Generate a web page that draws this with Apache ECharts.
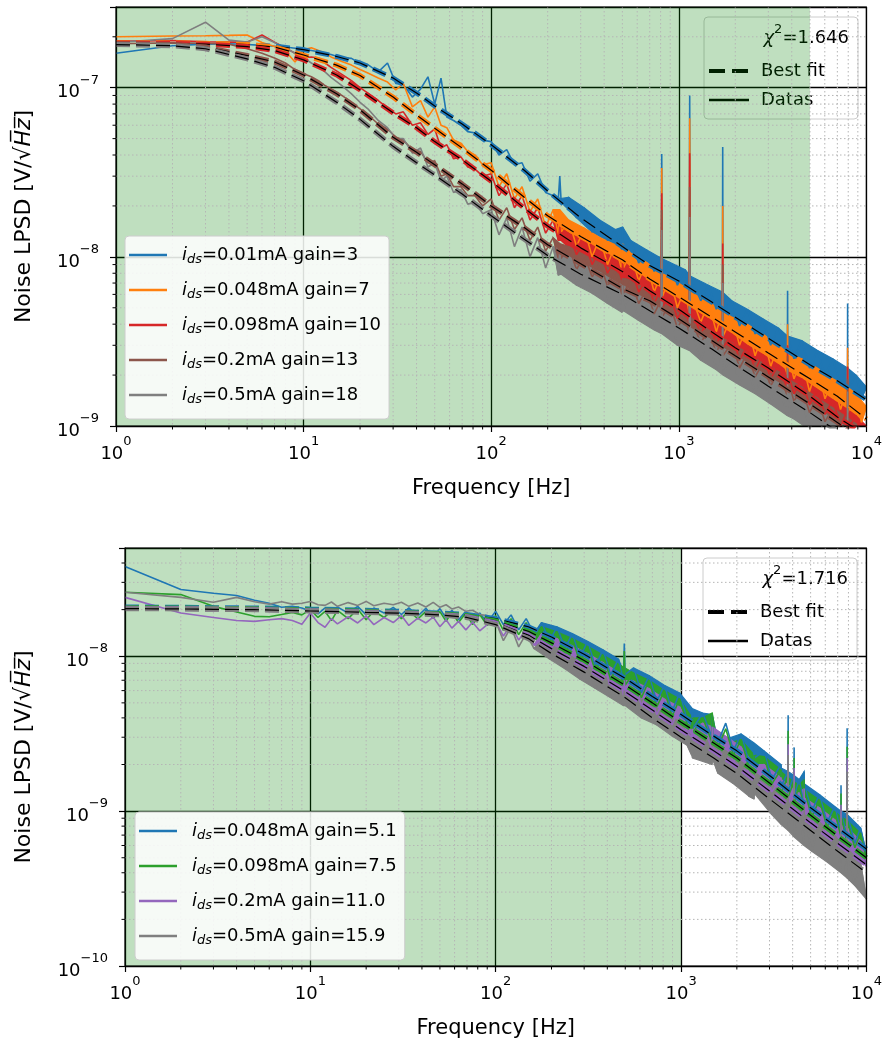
<!DOCTYPE html>
<html><head><meta charset="utf-8">
<script src="https://cdn.jsdelivr.net/npm/echarts@6/dist/echarts.min.js"></script>
<style>html,body{margin:0;padding:0;background:#fff}#c{width:885px;height:1046px}</style>
</head><body><div id="c"></div>
<script>
const FONT = 'DejaVu Sans';
// Values are in nV/sqrt(Hz) (1 nV = 1e-9 V); axis labels show powers of ten in V.

// ---------------- Top panel ----------------
const topNames = ['ids=0.01mA gain=3','ids=0.048mA gain=7','ids=0.098mA gain=10','ids=0.2mA gain=13','ids=0.5mA gain=18'];
const topColors = ['#1f77b4','#ff7f0e','#d62728','#8c564b','#7f7f7f'];
const topChi = '1.646';
const topGreenSpan = [1, 5000];
const topFreq = [1,2,3,4,5,6,7,8,9,10,11,12,13,14,
 16,18,20,22,25,28,31,34,38,42,46,50,54,58,63,69,75,82,90,
 100,110,121,133,146,161,177,195,214,
 228,232,236,259,285,313,345,379,417,459,
 497,502,507,555,611,672,739,
 806,811,816,894,983,1082,
 1136,1143,1150,1309,1440,1584,
 1708,1714,1720,1917,2108,2319,2551,2806,3087,3396,
 3794,3800,3806,4110,4521,4973,5470,6017,6619,7281,
 7934,7940,7946,8810,9400,10000];
const topBlue = [160,177,181,182,180,178,176,174,171,168,166,163,160,157,
 150,149,139,137,124,140,106,104,88,98,116,80,114,67,64,60,55,54,49,
 48,40,43,35,36,28,31,24,23,
 22,30,21,22.5,17,19.5,14,16.5,12.5,14.5,
 11,15,11.5,12.5,9.2,11,8.2,
 9.8,40.6,8,9.3,6.8,8.4,
 6.3,90,7.7,5.5,6.8,4.9,
 6.2,44.6,4.7,5.5,3.9,4.9,3.5,4.3,3.0,3.8,
 2.7,6.3,3.4,2.5,3.2,2.2,2.8,2.0,2.5,1.75,
 2.2,5.3,1.65,2.0,1.45,1.7];
const topOrange = [200,202,203,204,205,185,175,165,142,168,172,166,160,152,
 143,136,128,122,114,108,97,106,77,84,67,77,60,58,49,47,42,40,35,
 36,26,31,22,26,18.5,22,15,19,
 13.5,19,14,16.5,11.5,14.8,10,13,9,11.8,
 8.3,12,8.6,10.5,7.2,9.3,6.2,
 8,33.5,5.8,7.6,5,6.6,
 4.6,66,6.2,4.1,5.4,3.6,
 4.8,20,3.4,4.4,3.0,4.0,2.6,3.5,2.25,3.0,
 2.0,4.0,2.7,1.9,2.5,1.6,2.2,1.45,1.9,1.25,
 1.7,2.9,1.2,1.55,1.05,1.3];
const topRed = [188,190,187,186,186,205,186,172,160,151,152,150,140,132,
 120,110,100,93,84,76,70,72,60,62,53,57,44,46,38,39,34,33,30,
 31,23,27,19.5,23,16.5,19.5,13.8,16.5,
 12.5,15,12.5,13.8,10.3,12.5,9,11,8,9.8,
 7.3,9.5,7.5,8.6,6.2,7.4,5.3,
 6.5,23.8,5.0,6.1,4.3,5.3,
 3.9,41,5.0,3.5,4.3,3.0,
 3.8,12,2.9,3.5,2.45,3.0,2.15,2.65,1.9,2.3,
 1.65,3.0,2.1,1.55,1.9,1.33,1.65,1.17,1.43,1.0,
 1.25,2.25,0.95,1.15,0.83,1.0];
const topBrown = [182,184,183,181,170,160,150,140,128,121,116,110,103,98,
 90,82,75,69,61,57,51,49,43,42,36,37,30,31,26,26,23,23,20,
 22,16.5,19.5,14.5,17,12.5,15,10.8,13,
 9.7,12,9.8,11.5,8.4,10.3,7.6,9.2,6.7,8.2,
 6.0,7.5,6.1,7.3,5.3,6.4,4.6,
 5.6,18.9,4.4,5.3,3.8,4.6,
 3.5,25.9,4.4,3.1,3.7,2.7,
 3.3,9,2.6,3.1,2.2,2.7,1.95,2.35,1.72,2.1,
 1.5,2.6,1.9,1.4,1.7,1.2,1.47,1.06,1.28,0.93,
 1.12,1.9,0.87,1.03,0.78,0.9];
const topGrey = [185,195,244,191,186,200,185,172,160,150,140,132,124,115,
 103,92,82,75,64,58,50,50,41,44,34,36,28,30,24,25,20.5,21,18,
 19,13.5,17,11.5,15,10,13,8.6,11.5,
 7.8,11,7.9,10,6.8,9,6.1,8.1,5.3,7.1,
 4.7,6.8,4.8,6.3,4.2,5.6,3.7,
 4.9,14.4,3.5,4.6,3.0,4.0,
 2.8,17.2,3.8,2.45,3.3,2.15,
 2.9,7,2.0,2.7,1.75,2.35,1.55,2.05,1.35,1.8,
 1.15,2.2,1.6,1.1,1.45,0.95,1.26,0.84,1.1,0.73,
 0.98,1.6,0.7,0.88,0.6,0.78];
// best-fit curves (top)
const topFitFreq = [1,2,3,5,7,10,15,20,30,40,50,70,100,150,200,300,500,700,1000,1500,2000,3000,5000,7000,10000];
const topBlueFit   = [183,182,181,179,176,168,153,140,114,93,78,61,46,32.5,24.5,17,11.5,8.9,7.2,5.4,4.4,3.3,2.3,1.85,1.43];
const topOrangeFit = [185,184,183,180,174,156,136,118,88,69,57.5,44,32.5,22.5,17.5,13.2,9.6,7.4,5.8,4.4,3.6,2.7,1.9,1.5,1.1];
const topRedFit    = [184,183,181,175,166,146,119,97,71,58,48,37.5,28,19.4,15.2,11.3,8.2,6.3,4.9,3.6,2.9,2.2,1.5,1.13,0.88];
const topBrownFit  = [182,180,174,155,142,119,92,74,51,41.5,35,27,20,14.9,11.8,9.1,6.5,5.5,4.3,3.2,2.6,1.95,1.35,1.05,0.8];
const topGreyFit   = [180,177,170,148,132,110,82,65,45,36,30.5,23.5,17.5,12.7,10.2,7.9,6.0,4.8,3.8,2.85,2.3,1.72,1.2,0.93,0.72];

// ---------------- Bottom panel ----------------
const botNames = ['ids=0.048mA gain=5.1','ids=0.098mA gain=7.5','ids=0.2mA gain=11.0','ids=0.5mA gain=15.9'];
const botColors = ['#1f77b4','#2ca02c','#9467bd','#7f7f7f'];
const botChi = '1.716';
const botGreenSpan = [1, 1000];
const botFreq = [1,2,3,4,5,6,7,8,9,10,11,12,13,14,
 16,18,20,22,25,28,31,34,38,42,46,50,54,58,63,69,75,82,90,
 100,110,121,133,146,161,177,195,214,236,
 259,285,313,345,379,417,459,489,494,499,
 555,611,672,739,813,894,983,1082,
 1142,1148,1154,1309,1468,1473,1478,1584,1742,1917,
 2108,2319,2474,2479,2484,2806,3087,
 3462,3467,3472,3777,3782,3787,4069,4074,4079,4336,
 4608,4613,4618,5070,5577,6135,6749,
 7290,7295,7300,7865,7870,7875,8660,9300,10000];
const botBlue = [38,27,25.5,24.7,23,22,20.7,21,20.5,19.5,18.8,20.5,19.2,20.8,
 19,21,18.5,20.5,19,20.7,18.6,20.5,18.2,20.4,18,20.3,17.6,19.8,17.2,19.5,16.8,19,16.5,
 19.5,16,18.5,14.8,17.5,14,16.5,12.5,15.5,11.2,
 14,9.8,12.5,8.6,11,7.6,9.6,6.8,12.1,7.6,
 8.4,5.8,7.5,5.1,6.5,4.4,5.8,3.8,
 3.6,4.6,3.4,4.3,3.0,4.2,3.1,2.8,3.7,2.45,
 3.15,2.1,2.0,2.75,2.2,2.45,1.6,
 2.0,1.9,1.45,1.8,4.16,1.35,1.7,2.58,1.25,1.6,
 1.1,1.8,1.5,1.0,1.28,0.85,1.07,
 0.73,1.47,1.0,0.68,3.43,0.95,0.62,0.78,0.53];
const botGreen = [25.9,25,21,19.3,18.1,18,18.6,19.2,18.5,20,17.8,19.5,17,19.8,
 17.5,20.2,17.2,19.6,17.8,20,17.5,19.8,17.4,19.5,17.6,19.4,16.8,19.3,16.5,19,16,18.6,15.8,
 18.3,14.7,17.5,13.8,16.5,13,15.5,11.6,14.4,10.4,
 13,9.1,11.6,8,10.2,7.1,8.9,6.4,10.8,6.5,
 7.8,5.4,7,4.7,6.0,4.1,5.3,3.6,
 3.4,4.0,3.2,4.0,2.8,4.3,2.9,2.6,3.4,2.3,
 2.9,1.95,1.85,2.3,2.0,2.25,1.5,
 1.85,1.8,1.35,1.65,3.3,1.25,1.55,2.2,1.15,1.47,
 1.02,1.6,1.38,0.92,1.18,0.79,0.99,
 0.68,1.3,0.92,0.63,2.6,0.87,0.58,0.72,0.49];
const botPurple = [24,19,17.8,17,16.8,17.2,17.5,17,16.1,19,16.5,15.4,17.5,16.2,
 18,16.4,18.2,16,17.8,16.5,18.3,15.8,17.6,16.4,17.9,15.5,17.2,15.2,16.8,14.8,16.6,14.6,16,
 16.8,13.5,16,12.7,15,11.8,14,10.6,13,9.4,
 11.7,8.2,10.4,7.2,9.1,6.3,7.9,5.6,7.0,5.8,
 6.9,4.8,6.2,4.2,5.3,3.6,4.7,3.2,
 3.0,3.4,2.9,3.7,2.5,3.5,2.6,2.3,3.0,2.05,
 2.6,1.75,1.65,2.0,1.8,2.0,1.33,
 1.65,1.6,1.2,1.48,2.7,1.12,1.38,1.9,1.03,1.3,
 0.92,1.4,1.22,0.82,1.05,0.7,0.88,
 0.61,1.1,0.82,0.56,2.2,0.78,0.52,0.64,0.44];
const botGrey = [25.9,24,22.3,24,22.5,21.7,22.5,21.7,22,22.6,21.5,21.3,22.4,21,
 22.2,21.3,22.6,21.2,22,21.5,22.3,21,22.1,20.8,22.3,20.7,21.5,20.2,20.8,19.5,19.8,18.6,18.3,
 16.8,12.6,15.5,11.5,14,11.2,12.5,9.6,11.3,8.3,
 9.9,7.1,8.7,6.2,7.6,5.4,6.5,4.8,6.0,4.8,
 5.6,4.0,5.0,3.6,4.3,3.05,3.8,2.65,
 2.3,3.0,2.2,3.0,2.0,2.9,2.2,1.75,2.45,1.5,
 2.1,1.25,1.2,1.9,1.3,1.6,0.95,
 1.35,1.3,0.82,1.2,2.3,0.75,1.1,1.5,0.68,1.03,
 0.6,1.1,0.95,0.55,0.85,0.47,0.7,
 0.4,0.9,0.62,0.37,1.8,0.58,0.33,0.46,0.27];
// best-fit curves (bottom)
const botFitFreq = [1,2,3,5,7,10,15,20,30,50,70,100,150,200,300,500,700,1000,1500,2000,3000,5000,7000,10000];
const botBlueFit   = [20.8,20.7,20.6,20.5,20.4,20.2,20.0,19.8,19.5,19.0,18.6,17.5,15.5,13.3,10.3,7.2,5.5,4.2,3.05,2.45,1.7,1.05,0.78,0.57];
const botGreenFit  = [20.6,20.5,20.4,20.3,20.1,19.9,19.7,19.5,19.2,18.8,18.3,16.9,14.5,12.2,9.4,6.5,5.0,3.75,2.75,2.2,1.52,0.94,0.69,0.5];
const botPurpleFit = [20.4,20.3,20.2,20.1,19.9,19.7,19.5,19.3,19.1,18.6,18.0,16.4,13.7,11.2,8.6,5.9,4.5,3.35,2.45,1.95,1.35,0.84,0.62,0.45];
const botGreyFit   = [20.3,20.2,20.1,20.0,19.8,19.6,19.4,19.2,19.0,18.5,17.8,16.0,13.0,10.4,7.9,5.4,4.0,3.0,2.2,1.75,1.2,0.75,0.55,0.4];

// ---------------- helpers ----------------
let warn = '';
function zip(f, v, tag){ if (f.length !== v.length) warn += tag + ':' + f.length + '/' + v.length + ' '; return f.map((x,i)=>[x, v[i]]); }
function isDecade(v){ const l = Math.log10(v); return Math.abs(l - Math.round(l)) < 1e-6; }
function powLabel(v, shift){
  if (!isDecade(v)) return '';
  const e = Math.round(Math.log10(v)) + shift;
  return '{b|10}{e|' + (e < 0 ? '\u2212' + (-e) : String(e)) + '}';
}
const tickRich = {
  b: {fontSize: 18, fontFamily: FONT, color: '#000', lineHeight: 28, verticalAlign: 'bottom'},
  e: {fontSize: 13, fontFamily: FONT, color: '#000', lineHeight: 13, verticalAlign: 'top'}
};
const yName = '{n|Noise LPSD [V/\u221A}{h|H\u0305z\u0305}{n|]}';
const nameRich = {
  n: {fontSize: 22, fontFamily: FONT, color: '#000'},
  h: {fontSize: 22, fontFamily: FONT, color: '#000', fontStyle: 'italic'}
};
function mkX(i){
  return {type:'log', gridIndex:i, min:1, max:10000, logBase:10, splitNumber:10,
    axisLine:{show:true, onZero:false, lineStyle:{color:'#000', width:1}},
    axisTick:{show:true, length:6, lineStyle:{color:'#000', width:1.2}},
    axisLabel:{margin:9, formatter:v=>powLabel(v,0), rich:tickRich, showMinLabel:true, showMaxLabel:true, hideOverlap:false},
    splitLine:{show:true, lineStyle:{color:'#000', width:1.3}},
    name:'Frequency [Hz]', nameLocation:'middle', nameGap:52,
    nameTextStyle:{fontSize:21, fontFamily:FONT, color:'#000'}};
}
function mkY(i, min, max, gap){
  return {type:'log', gridIndex:i, min, max, logBase:10, splitNumber:10,
    axisLine:{show:true, onZero:false, lineStyle:{color:'#000', width:1}},
    axisTick:{show:true, length:6, lineStyle:{color:'#000', width:1.2}},
    axisLabel:{margin:17, formatter:v=>powLabel(v,-9), rich:tickRich, showMinLabel:true, showMaxLabel:true, hideOverlap:false},
    splitLine:{show:true, lineStyle:{color:'#000', width:1.3}},
    name:yName, nameLocation:'middle', nameGap:gap,
    nameTextStyle:{rich:nameRich, fontSize:22, fontFamily:FONT, color:'#000'}};
}
function dataSeries(name, f, v, color, gi, span){
  const s = {name, type:'line', xAxisIndex:gi, yAxisIndex:gi, data:zip(f, v, name), symbol:'none', showSymbol:false,
    color, lineStyle:{color, width:1.6}, z:2, silent:true};
  if (span) s.markArea = {silent:true, itemStyle:{color:'rgba(0,128,0,0.25)'}, data:[[{xAxis:span[0]},{xAxis:span[1]}]]};
  return s;
}
// noise band: polygon through the measured points (upper excursions left->right, lower excursions back);
// isolated spikes are left to the line itself.
function bandSeries(f, v, color, gi, fStart){
  const all = f.map((x,i)=>[x, v[i]]).filter(p=>p[0] >= fStart);
  const val = i => all[Math.max(0, Math.min(all.length-1, i))][1];
  const pts = all.filter((p,i)=> !(p[1] > 1.15 * Math.max(val(i-2), val(i+2)) && p[1] > 1.3 * Math.max(val(i-1), val(i+1))));
  const up = [pts[0]], lo = [pts[0]];
  for (let i = 1; i < pts.length - 1; i++) {
    const mid = (Math.log(pts[i-1][1]) + Math.log(pts[i+1][1])) / 2;
    if (Math.log(pts[i][1]) >= mid) up.push(pts[i]); else lo.push(pts[i]);
  }
  up.push(pts[pts.length-1]); lo.push(pts[pts.length-1]);
  return {type:'custom', xAxisIndex:gi, yAxisIndex:gi, z:2, silent:true, clip:true,
    data:[pts[0]], encode:{x:0, y:1},
    renderItem:(params, api)=>{
      const poly = up.map(p=>api.coord(p)).concat(lo.slice().reverse().map(p=>api.coord(p)));
      return {type:'polygon', shape:{points:poly}, style:{fill:color, stroke:color, lineWidth:1.2}};
    }};
}
function fitSeries(name, f, v, color, gi){
  const d = zip(f, v, name + ' fit');
  return [
    {name:name+' fit', type:'line', xAxisIndex:gi, yAxisIndex:gi, data:d, symbol:'none', color,
      lineStyle:{color, width:5, type:[14,6]}, z:3, silent:true},
    {name:name+' fit core', type:'line', xAxisIndex:gi, yAxisIndex:gi, data:d, symbol:'none', color:'#000',
      lineStyle:{color:'#000', width:1.2, type:[14,6]}, z:3, silent:true}
  ];
}
// minor tick positions (2..9 per decade)
function minorPositions(lo, hi){
  const out = [];
  for (let d = lo; d < hi; d *= 10) for (let k = 2; k <= 9; k++) { const v = d * k; if (v < hi) out.push(v); }
  return out;
}
function minorGrid(gi, xs, ys, yRef){
  const data = xs.map(v=>[v, yRef, 0]).concat(ys.map(v=>[1, v, 1]));
  return {type:'custom', xAxisIndex:gi, yAxisIndex:gi, z:1.5, silent:true, data, encode:{x:0, y:1},
    renderItem:(params, api)=>{
      const cs = params.coordSys; const t = api.value(2);
      const p = api.coord([api.value(0), api.value(1)]);
      const st = {stroke:'#b5b5b5', lineWidth:1, lineDash:[1.5,2.5]};
      if (t === 0) return {type:'line', shape:{x1:p[0], y1:cs.y, x2:p[0], y2:cs.y+cs.height}, style:st};
      return {type:'line', shape:{x1:cs.x, y1:p[1], x2:cs.x+cs.width, y2:p[1]}, style:st};
    }};
}
function frame(gi, xs, ys, yRef){
  const data = xs.map(v=>[v, yRef, 0]).concat(ys.map(v=>[1, v, 1])).concat([[1, yRef, 2]]);
  return {type:'custom', xAxisIndex:gi, yAxisIndex:gi, z:4, silent:true, data, encode:{x:0, y:1},
    renderItem:(params, api)=>{
      const cs = params.coordSys; const t = api.value(2);
      const p = api.coord([api.value(0), api.value(1)]);
      const st = {stroke:'#000', lineWidth:1};
      if (t === 0) return {type:'line', shape:{x1:p[0], y1:cs.y+cs.height, x2:p[0], y2:cs.y+cs.height+3.5}, style:st};
      if (t === 1) return {type:'line', shape:{x1:cs.x-3.5, y1:p[1], x2:cs.x, y2:p[1]}, style:st};
      return {type:'rect', shape:{x:cs.x, y:cs.y, width:cs.width, height:cs.height}, style:{stroke:'#000', lineWidth:1.2, fill:null}};
    }};
}
const legendRich = {
  i: {fontStyle:'italic', fontSize:18, fontFamily:FONT, color:'#000', lineHeight:22, padding:[0,0,0,10]},
  s: {fontStyle:'italic', fontSize:13, fontFamily:FONT, color:'#000', lineHeight:12, verticalAlign:'bottom'},
  t: {fontSize:18, fontFamily:FONT, color:'#000', lineHeight:22}
};
function mkLegend(names, left, top){
  return {orient:'vertical', left, top, data:names, icon:'rect', itemWidth:38, itemHeight:2.6, itemGap:15,
    padding:[10,8,13,4], backgroundColor:'rgba(255,255,255,0.85)', borderColor:'#cccccc', borderWidth:1, borderRadius:4,
    z:10, selectedMode:false,
    formatter: n => '{i|i}{s|ds}{t|' + n.slice(3) + '}',
    textStyle:{fontFamily:FONT, fontSize:18, color:'#000', rich:legendRich}};
}
function chiBox(x0, y0, chi){
  const tf = {fontSize:18, fontFamily:FONT, fill:'#000', verticalAlign:'middle'};
  return {type:'group', x:x0, y:y0, z:100, silent:true, children:[
    {type:'rect', shape:{x:0, y:0, width:154, height:102, r:4}, style:{fill:'rgba(255,255,255,0.85)', stroke:'#cccccc', lineWidth:1}},
    {type:'text', x:145, y:18, style:{text:'{c|\u03C7}{s|2}{t|=' + chi + '}', align:'right', verticalAlign:'middle',
      rich:{c:{fontSize:18, fontFamily:FONT, fontStyle:'italic', fill:'#000', lineHeight:24, verticalAlign:'bottom'},
            s:{fontSize:13, fontFamily:FONT, fill:'#000', lineHeight:15, verticalAlign:'top'},
            t:{fontSize:18, fontFamily:FONT, fill:'#000', lineHeight:24, verticalAlign:'bottom'}}}},
    {type:'line', shape:{x1:5, y1:54, x2:45, y2:54}, style:{stroke:'#000', lineWidth:3.8, lineDash:[16,7]}},
    {type:'text', x:57, y:54, style:Object.assign({text:'Best fit'}, tf)},
    {type:'line', shape:{x1:5, y1:83, x2:45, y2:83}, style:{stroke:'#000', lineWidth:2.6}},
    {type:'text', x:57, y:83, style:Object.assign({text:'Datas'}, tf)}
  ]};
}

// ---------------- build ----------------
const topData = [topBlue, topOrange, topRed, topBrown, topGrey];
const topFits = [topBlueFit, topOrangeFit, topRedFit, topBrownFit, topGreyFit];
const botData = [botBlue, botGreen, botPurple, botGrey];
const botFits = [botBlueFit, botGreenFit, botPurpleFit, botGreyFit];

const minX = minorPositions(1, 10000);
const minYTop = minorPositions(1, 300);
const minYBot = minorPositions(0.1, 50);

const series = [];
series.push(minorGrid(0, minX, minYTop, 10));
series.push(minorGrid(1, minX, minYBot, 1));
topNames.forEach((n,i)=>{
  series.push(bandSeries(topFreq, topData[i], topColors[i], 0, 200));
  series.push(dataSeries(n, topFreq, topData[i], topColors[i], 0, i===0 ? topGreenSpan : null));
});
topNames.forEach((n,i)=>fitSeries(n, topFitFreq, topFits[i], topColors[i], 0).forEach(s=>series.push(s)));
botNames.forEach((n,i)=>{
  series.push(bandSeries(botFreq, botData[i], botColors[i], 1, 160));
  series.push(dataSeries(n, botFreq, botData[i], botColors[i], 1, i===0 ? botGreenSpan : null));
});
botNames.forEach((n,i)=>fitSeries(n, botFitFreq, botFits[i], botColors[i], 1).forEach(s=>series.push(s)));
series.push(frame(0, minX, minYTop, 10));
series.push(frame(1, minX, minYBot, 1));

const option = {
  animation:false,
  textStyle:{fontFamily:FONT},
  title: warn ? {text:'LEN MISMATCH ' + warn, left:200, top:450, textStyle:{color:'red', fontSize:12}} : undefined,
  grid:[{left:116, top:7, width:751, height:419}, {left:125, top:548, width:742, height:418}],
  xAxis:[mkX(0), mkX(1)],
  yAxis:[mkY(0, 1, 300, 81), mkY(1, 0.1, 50, 90)],
  legend:[mkLegend(topNames, 125, 236), mkLegend(botNames, 135, 812)],
  graphic:[chiBox(704, 17, topChi), chiBox(703, 558, botChi)],
  series
};
const chart = echarts.init(document.getElementById('c'));
chart.setOption(option);
</script></body></html>
